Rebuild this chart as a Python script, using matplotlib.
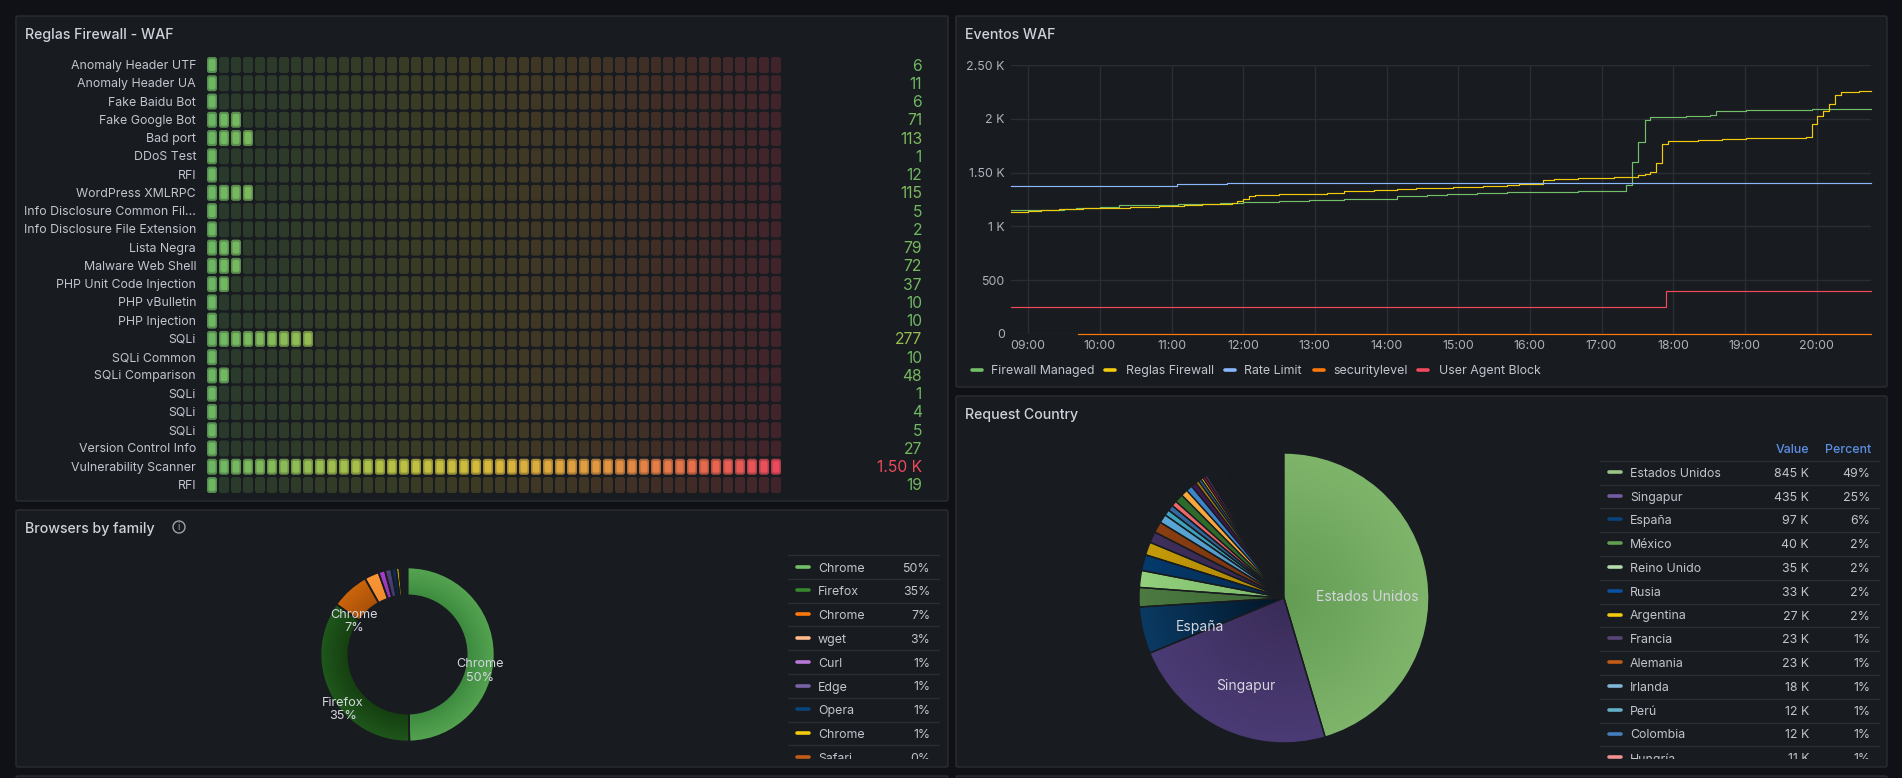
#Grafana style WAF dashboard, four panels drawn on one figure
import numpy as np
import matplotlib
matplotlib.use('Agg')
import matplotlib.pyplot as plt
from matplotlib.colors import LinearSegmentedColormap, to_rgb
from matplotlib.patches import FancyBboxPatch, Rectangle, Circle

plt.rcParams['font.family'] = ['Inter', 'DejaVu Sans']

W, H = 1902, 778

#Bar gauge data
rule_names = ['Anomaly Header UTF', 'Anomaly Header UA', 'Fake Baidu Bot', 'Fake Google Bot', 'Bad port',
              'DDoS Test', 'RFI', 'WordPress XMLRPC', 'Info Disclosure Common Fil...',
              'Info Disclosure File Extension', 'Lista Negra', 'Malware Web Shell',
              'PHP Unit Code Injection', 'PHP vBulletin', 'PHP Injection', 'SQLi', 'SQLi Common',
              'SQLi Comparison', 'SQLi', 'SQLi', 'SQLi', 'Version Control Info',
              'Vulnerability Scanner', 'RFI']
rule_values = [6, 11, 6, 71, 113, 1, 12, 115, 5, 2, 79, 72, 37, 10, 10, 277, 10, 48, 1, 4, 5, 27, 1500, 19]
rule_labels = ['6', '11', '6', '71', '113', '1', '12', '115', '5', '2', '79', '72', '37', '10', '10',
               '277', '10', '48', '1', '4', '5', '27', '1.50 K', '19']
rule_max = 1500

t_end = 20.76
fw_hours = [8.76, 9.5, 9.67, 10.0, 10.26, 11.09, 11.67, 11.83, 12.0, 12.5, 12.92, 13.41, 14.15, 14.57,
            14.84, 15.26, 15.68, 16.67, 17.34, 17.42, 17.51, 17.6, 17.68, 18.18, 18.52, 18.6, 19.02, 19.93, t_end]
fw_values = [1152, 1160, 1170, 1176, 1199, 1206, 1213, 1220, 1227, 1236, 1245, 1255, 1281, 1290,
             1298, 1307, 1317, 1326, 1385, 1598, 1784, 1989, 2017, 2026, 2035, 2072, 2082, 2091, 2091]
rg_hours = [8.76, 9.0, 9.18, 9.43, 9.77, 10.42, 10.83, 11.17, 11.42, 11.84, 11.91, 12.0, 12.08, 12.17, 12.5,
            13.17, 13.41, 13.83, 14.15, 14.41, 14.93, 15.34, 15.68, 15.85, 16.18, 16.34, 16.67, 17.18,
            17.51, 17.6, 17.68, 17.76, 17.85, 17.93, 18.35, 18.68, 19.02, 19.85, 19.93, 20.01, 20.09,
            20.18, 20.26, 20.34, 20.59, t_end]
rg_values = [1134, 1143, 1152, 1162, 1171, 1180, 1190, 1199, 1208, 1217, 1236, 1255, 1283, 1292, 1301,
             1310, 1329, 1338, 1348, 1357, 1363, 1372, 1382, 1391, 1428, 1438, 1447, 1459,
             1478, 1487, 1506, 1589, 1763, 1794, 1803, 1812, 1822, 1831, 1952, 2026, 2072,
             2138, 2221, 2249, 2258, 2258]
rl_hours = [8.76, 11.08, 11.78, t_end]
rl_values = [1380, 1390, 1400, 1400]
sl_hours = [9.69, t_end]
sl_values = [0, 0]
ua_hours = [8.76, 17.9, t_end]
ua_values = [255, 395, 395]
series_names = ['Firewall Managed', 'Reglas Firewall', 'Rate Limit', 'securitylevel', 'User Agent Block']
series_colors = ['#73BF69', '#F2CC0C', '#8AB8FF', '#FF780A', '#F2495C']
y_ticks = [0, 500, 1000, 1500, 2000, 2500]
y_tick_labels = ['0', '500', '1 K', '1.50 K', '2 K', '2.50 K']
x_ticks = list(range(9, 21))
x_tick_labels = ['%02d:00' % h for h in x_ticks]

#Browsers
browser_names = ['Chrome', 'Firefox', 'Chrome', 'wget', 'Curl', 'Edge', 'Opera', 'Chrome', 'Safari']
browser_pct = ['50%', '35%', '7%', '3%', '1%', '1%', '1%', '1%', '0%']
browser_values = [49.6, 35.1, 7.1, 2.7, 1.2, 1.2, 0.9, 0.6, 0.4, 0.4, 0.3, 0.4]
browser_legend = ['#73BF69', '#37872D', '#FF780A', '#FFB98A', '#B877D9', '#7A62A8', '#0A437C', '#F2CC0C', '#C15C17']
browser_outer = ['#55a451', '#1f571c', '#cb640c', '#fb9636', '#a73fca', '#4e4279', '#0b2f58', '#cfa90c',
                 '#6e3410', '#33231b', '#221f20', '#1c1e22']
browser_inner = ['#3d8a3f', '#153f10', '#a85008', '#f08a2c', '#8e34ac', '#423768', '#08233f', '#a88a0a',
                 '#5a2a0c', '#2a1d17', '#1e1c1d', '#1a1c20']

#Countries
country_names = ['Estados Unidos', 'Singapur', 'España', 'México', 'Reino Unido', 'Rusia', 'Argentina',
                 'Francia', 'Alemania', 'Irlanda', 'Perú', 'Colombia', 'Hungría']
country_values = [845, 435, 97, 40, 35, 33, 27, 23, 23, 18, 12, 12, 11]
country_value_labels = ['845 K', '435 K', '97 K', '40 K', '35 K', '33 K', '27 K', '23 K', '23 K', '18 K',
                        '12 K', '12 K', '11 K']
country_pct = ['49%', '25%', '6%', '2%', '2%', '2%', '2%', '1%', '1%', '1%', '1%', '1%', '1%']
country_legend = ['#9AC48A', '#705DA0', '#0A437C', '#629E51', '#B7DBAB', '#0A50A1', '#F2CC0C', '#584477',
                  '#C15C17', '#82B5D8', '#64B0C8', '#447EBC', '#F29191']
country_outer = ['#7fb46b', '#4b3b75', '#0a3a63', '#4c7a41', '#93d07c', '#053a6c', '#c49a08', '#3f2f5c',
                 '#8a3f12', '#5aa8d8', '#3fa5c0', '#36699f', '#f26a6a']
country_inner = ['#639c53', '#3a2c58', '#021527', '#3c6534', '#7bb868', '#042a50', '#a88406', '#33264c',
                 '#74340e', '#4a90bc', '#3590a8', '#2e5a88', '#d85c5c']
#the long tail of small countries, values in thousands
tail_values = [18, 14, 13, 11, 7, 6, 5, 5, 5,
               3.2, 3.0, 2.9, 2.8, 2.7, 2.6, 2.5, 2.5, 2.4, 2.3, 2.3, 2.2, 2.2, 2.1, 2.0,
               3.8, 3.8, 3.7, 3.7, 3.6, 3.6, 3.6, 3.5, 3.5, 3.5, 3.4, 3.4, 3.4, 3.3, 3.3, 3.3,
               3.3, 3.2, 3.2, 3.2, 3.2, 3.1, 3.1, 3.1, 3.1, 3.0, 3.0, 3.0, 3.0, 2.9, 2.9, 2.9,
               2.9, 2.8, 2.8, 2.8, 2.8, 2.7, 2.7, 2.7]
tail_colors = ['#2c6b2a', '#f9a83c', '#3a85c8', '#3e1848', '#a07a10', '#2a5f95', '#e8c818', '#c8143c', '#5a3a7a']
tail_colors += ['#2c4650', '#3a2f52', '#2a4a3a', '#2f3a55', '#33303f'] * 3
tail_colors += ['#1a1c20', '#15171b'] * 20

PAGE = '#101116'
PANEL = '#181b1f'
BORDER = '#2b2d33'
TEXT = '#c3c4ce'
GRID = '#2a2d31'
FS = 8.9

fig = plt.figure(figsize=(W / 100, H / 100), dpi=100, facecolor=PAGE)


def px_axes(x0, y0, x1, y1, z=1):
    ax = fig.add_axes([x0 / W, 1 - y1 / H, (x1 - x0) / W, (y1 - y0) / H], zorder=z)
    ax.patch.set_alpha(0)
    return ax


#pixel canvas behind and in front of the charts
bg = px_axes(0, 0, W, H, 0)
bg.set_xlim(0, W)
bg.set_ylim(H, 0)
bg.axis('off')
fg = px_axes(0, 0, W, H, 10)
fg.set_xlim(0, W)
fg.set_ylim(H, 0)
fg.axis('off')

for x0, y0, x1, y1 in [(16, 16, 948, 501), (956, 16, 1887, 387), (16, 510, 948, 767), (956, 396, 1887, 767),
                       (16, 776, 948, 800), (956, 776, 1887, 800)]:
    bg.add_patch(FancyBboxPatch((x0, y0), x1 - x0, y1 - y0, boxstyle='round,pad=0,rounding_size=2',
                                fc=PANEL, ec=BORDER, lw=1))

for tx, ty, s in [(25, 35, 'Reglas Firewall - WAF'), (965, 35, 'Eventos WAF'),
                  (25, 529, 'Browsers by family'), (965, 415, 'Request Country')]:
    bg.text(tx, ty, s, color='#d0d1da', fontsize=10.2, fontweight='medium', va='center', ha='left')
bg.add_patch(Circle((179, 527), 6, fc='none', ec='#a0a1aa', lw=1))
bg.text(179, 527, 'i', color='#a0a1aa', fontsize=7, ha='center', va='center')

#Bar gauge
gauge = LinearSegmentedColormap.from_list('gauge', [(0, '#6db763'), (0.33, '#b9c142'), (0.5, '#d8b83c'),
                                                    (0.66, '#e09e3f'), (0.85, '#e76f4a'), (1, '#ea4a5c')])
n_cells = 48
pitch_x = 12
pitch_y = 18.26
cell_w = 10
cell_h = 16
ax = px_axes(207, 57, 207 + n_cells * pitch_x, 57 + 24 * pitch_y)
ax.set_xlim(0, n_cells * pitch_x)
ax.set_ylim(24 * pitch_y, 0)
ax.axis('off')
for r, (name, val, lab) in enumerate(zip(rule_names, rule_values, rule_labels)):
    lit = int(np.ceil(val / rule_max * n_cells))
    top = r * pitch_y
    for c in range(n_cells):
        col = gauge(c / (n_cells - 1))
        x = c * pitch_x
        if c < lit:
            ax.add_patch(FancyBboxPatch((x, top), cell_w, cell_h, boxstyle='round,pad=0,rounding_size=2.5',
                                        fc=col, ec='none', alpha=0.72))
            ax.add_patch(FancyBboxPatch((x + 1.5, top + 2), cell_w - 3, cell_h - 4,
                                        boxstyle='round,pad=0,rounding_size=2', fc=col, ec='none'))
        else:
            ax.add_patch(FancyBboxPatch((x, top), cell_w, cell_h, boxstyle='round,pad=0,rounding_size=2.5',
                                        fc=col, ec='none', alpha=0.2))
    cy = 57 + top + cell_h / 2 + 1
    bg.text(196, cy, name, color=TEXT, fontsize=FS, ha='right', va='center')
    bg.text(922, cy, lab, color=gauge(val / rule_max), fontsize=11.3, ha='right', va='center')

#Time series
ax = px_axes(1011, 65, 1871, 334)
ax.set_xlim(8.76, t_end)
ax.set_ylim(0, 2500)
ax.grid(True, color=GRID, lw=1)
ax.set_axisbelow(True)
ax.set_xticks(x_ticks, x_tick_labels)
ax.set_yticks(y_ticks, y_tick_labels)
ax.tick_params(length=0, colors='#b0b1bb', labelsize=8.9, pad=4.5)
for s in ax.spines.values():
    s.set_visible(False)
all_hours = [fw_hours, rg_hours, rl_hours, sl_hours, ua_hours]
all_values = [fw_values, rg_values, rl_values, sl_values, ua_values]
for hrs, vals, col in zip(all_hours, all_values, series_colors):
    ax.step(hrs, vals, where='post', color=col, lw=0.85, clip_on=False)
for hx, tx, name, col in zip([970, 1103, 1223, 1312, 1416], [991, 1126, 1244, 1333, 1439],
                             series_names, series_colors):
    bg.plot([hx + 1.5, hx + 12], [370, 370], color=col, lw=2.6, solid_capstyle='round')
    bg.text(tx, 371, name, color=TEXT, fontsize=FS, va='center', ha='left')


#Pies, each slice filled with a radial gradient clipped to its wedge
def shade(ax, wedges, inner, outer, r0):
    yy, xx = np.mgrid[-1:1:300j, -1:1:300j]
    rr = np.clip((np.hypot(xx, yy) - r0) / (1 - r0), 0, 1)[..., None]
    for w, c0, c1 in zip(wedges, inner, outer):
        img = np.array(to_rgb(c0)) * (1 - rr) + np.array(to_rgb(c1)) * rr
        im = ax.imshow(img, extent=(-1, 1, -1, 1), origin='lower', aspect='auto', zorder=1)
        im.set_clip_path(w)
        w.set_facecolor('none')
        w.set_zorder(2)


def pie_axes(cx, cy, R):
    a = px_axes(cx - R, cy - R, cx + R, cy + R, 2)
    return a


ax = pie_axes(407.5, 654.5, 87)
wedges, _ = ax.pie(browser_values, colors=browser_outer, startangle=90, counterclock=False, radius=1,
                   wedgeprops=dict(width=0.32, edgecolor=PANEL, linewidth=1.2))
shade(ax, wedges, browser_inner, browser_outer, 0.68)
ax.set_xlim(-1, 1)
ax.set_ylim(-1, 1)
ax.axis('off')
for tx, ty, s in [(480, 671, 'Chrome\n50%'), (343, 709.5, 'Firefox\n35%'), (354, 621.5, 'Chrome\n7%')]:
    fg.text(tx, ty, s, color='#d4d5de', fontsize=9.1, ha='center', va='center', linespacing=1.2)

ax = pie_axes(1284, 598, 145)
pie_values = country_values + tail_values
wedges, _ = ax.pie(pie_values, colors=country_outer + tail_colors, startangle=90, counterclock=False, radius=1,
                   wedgeprops=dict(edgecolor=PANEL, linewidth=1.0))
shade(ax, wedges[:13], country_inner, country_outer, 0.0)
ax.set_xlim(-1, 1)
ax.set_ylim(-1, 1)
ax.axis('off')
for tx, ty, s in [(1367, 597, 'Estados Unidos'), (1246, 686, 'Singapur'), (1200, 627, 'España')]:
    fg.text(tx, ty, s, color='#d4d5de', fontsize=10, ha='center', va='center')

#Tables next to the pies
row_h = 23.8
for i, (name, pct, col) in enumerate(zip(browser_names, browser_pct, browser_legend)):
    line_y = 555 + i * row_h
    cy = line_y + 13.5
    bg.plot([788, 939], [line_y, line_y], color=GRID, lw=1)
    bg.plot([797, 809], [cy - 2, cy - 2], color=col, lw=2.6, solid_capstyle='round')
    bg.text(818, cy, name, color=TEXT, fontsize=FS, va='center')
    bg.text(930, cy, pct, color=TEXT, fontsize=FS, va='center', ha='right')
bg.add_patch(Rectangle((786, 758.5), 156, 7.5, fc=PANEL, ec='none', zorder=5))

bg.text(1809, 449.5, 'Value', color='#5c8fe6', fontsize=FS, fontweight='medium', va='center', ha='right')
bg.text(1871, 449.5, 'Percent', color='#5c8fe6', fontsize=FS, fontweight='medium', va='center', ha='right')
for i, (name, v, pct, col) in enumerate(zip(country_names, country_value_labels, country_pct, country_legend)):
    line_y = 460.7 + i * row_h
    cy = line_y + 13
    bg.plot([1600, 1879], [line_y, line_y], color=GRID, lw=1)
    bg.plot([1609, 1621], [cy - 2, cy - 2], color=col, lw=2.6, solid_capstyle='round')
    bg.text(1630, cy, name, color=TEXT, fontsize=FS, va='center')
    bg.text(1809, cy, v, color=TEXT, fontsize=FS, va='center', ha='right')
    bg.text(1870, cy, pct, color=TEXT, fontsize=FS, va='center', ha='right')
bg.add_patch(Rectangle((1598, 758.5), 284, 7.5, fc=PANEL, ec='none', zorder=5))

fig.savefig('out.png', dpi=100, facecolor=PAGE)
